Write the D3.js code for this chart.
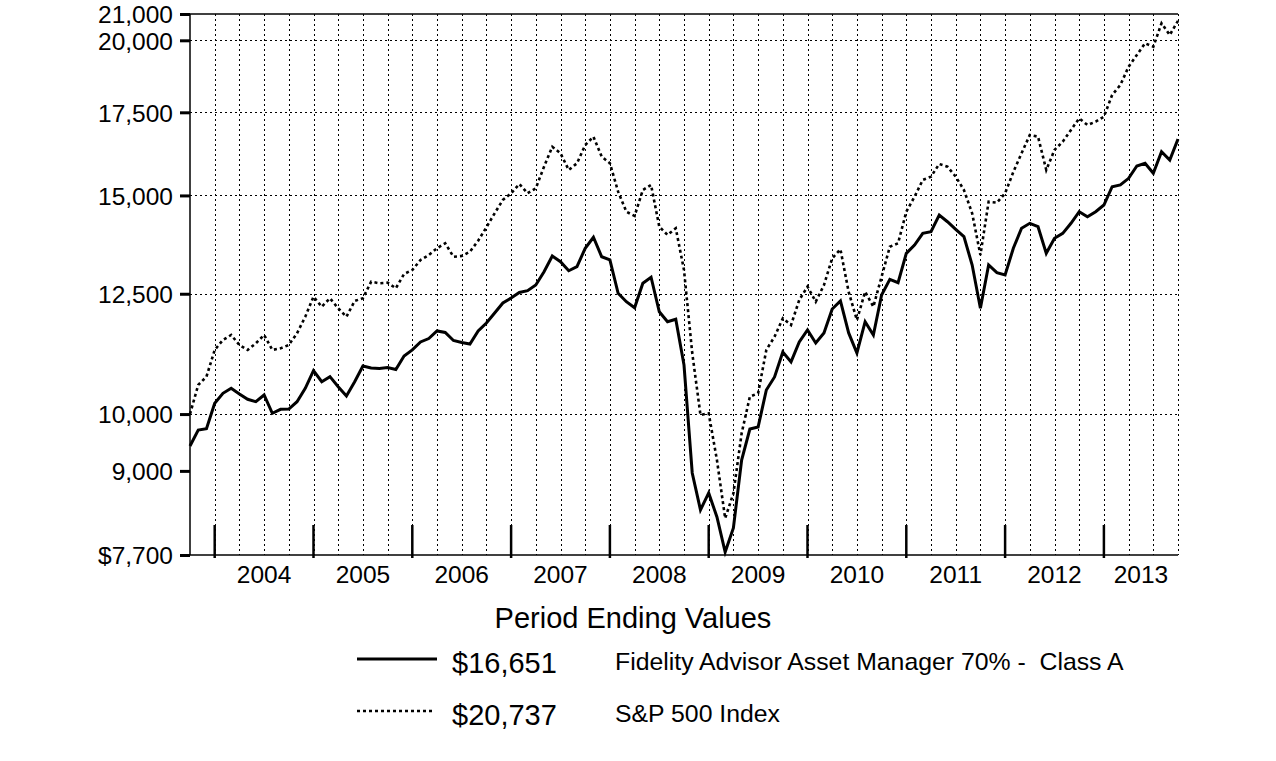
<!DOCTYPE html>
<html>
<head>
<meta charset="utf-8">
<script src="https://cdn.jsdelivr.net/npm/d3@7"></script>
<style>
  html, body { margin: 0; padding: 0; background: #fff; }
  svg { display: block; }
  text { font-family: "Liberation Sans", Arial, sans-serif; fill: #000; }
</style>
</head>
<body>
<svg id="chart" width="1276" height="761"></svg>
<script>
// Monthly period-ending values, Sep 2003 .. Sep 2013 (121 months)
const startMonth = "2003-09";
const fundValues = [
  9425, 9708, 9731, 10202, 10393, 10490, 10380, 10278, 10232, 10360,
  10015, 10088, 10094, 10232, 10490, 10838, 10619, 10719, 10521, 10341,
  10619, 10933, 10893, 10883, 10902, 10862, 11138, 11263, 11431, 11504,
  11666, 11633, 11462, 11420, 11388, 11666, 11840, 12062, 12287, 12402,
  12529, 12571, 12703, 13020, 13406, 13265, 13045, 13143, 13600, 13880,
  13388, 13308, 12510, 12317, 12180, 12745, 12888, 12090, 11869, 11922,
  10952, 8965, 8371, 8639, 8263, 7743, 8096, 9183, 9727, 9763,
  10456, 10712, 11220, 11015, 11431, 11687, 11410, 11624, 12151, 12333,
  11624, 11199, 11869, 11580, 12472, 12839, 12759, 13473, 13682, 13982,
  14024, 14465, 14286, 14087, 13896, 13184, 12167, 13184, 12997, 12942,
  13600, 14114, 14244, 14154, 13473, 13854, 13982, 14244, 14555, 14421,
  14555, 14736, 15244, 15294, 15484, 15842, 15922, 15630, 16267, 16019,
  16651
];
const spValues = [
  10000, 10555, 10719, 11263, 11472, 11580, 11367, 11263, 11403, 11580,
  11263, 11296, 11367, 11617, 11978, 12432, 12203, 12396, 12167, 11978,
  12333, 12396, 12782, 12745, 12759, 12627, 12966, 13062, 13308, 13431,
  13600, 13726, 13388, 13406, 13514, 13793, 14139, 14511, 14874, 15060,
  15322, 15060, 15200, 15821, 16418, 16220, 15725, 15922, 16470, 16727,
  16118, 15922, 15105, 14555, 14440, 15152, 15294, 14154, 13940, 14114,
  13062, 11199, 9983, 10015, 9183, 8243, 8633, 9649, 10328, 10393,
  11263, 11544, 11943, 11796, 12357, 12665, 12317, 12703, 13350, 13574,
  12541, 11905, 12545, 12203, 12902, 13639, 13726, 14555, 14965, 15437,
  15532, 15901, 15821, 15532, 15152, 14511, 13431, 14826, 14800, 15060,
  15666, 16220, 16779, 16727, 15725, 16320, 16571, 16937, 17306, 17094,
  17199, 17359, 18071, 18409, 19045, 19462, 19889, 19765, 20641, 20198,
  20737
];
const yTickValues = [7700, 9000, 10000, 12500, 15000, 17500, 20000, 21000];
const yTickLabels = ["$7,700", "9,000", "10,000", "12,500", "15,000", "17,500", "20,000", "21,000"];
const yGridValues = [10000, 12500, 15000, 17500, 20000];
const yearLabels = ["2004", "2005", "2006", "2007", "2008", "2009", "2010", "2011", "2012", "2013"];
const legendTitle = "Period Ending Values";
const seriesNames = ["Fidelity Advisor Asset Manager 70% -  Class A", "S&P 500 Index"];
const seriesEndLabels = ["$16,651", "$20,737"];

const svg = d3.select("#chart");
const L = 190, R = 1178, T = 14, B = 555;
const nMonths = fundValues.length - 1;
const x = d3.scaleLinear().domain([0, nMonths]).range([L, R]);
const y = d3.scaleLog().domain([7700, 21000]).range([B, T]);

// month index of each quarter end (Dec 2003 = index 3)
const quarterIdx = d3.range(3, nMonths + 1, 3);
const yearEndIdx = d3.range(3, nMonths, 12);

// vertical gridlines
svg.append("g").selectAll("line").data(quarterIdx).join("line")
  .attr("x1", d => Math.round(x(d)) + 0.5).attr("x2", d => Math.round(x(d)) + 0.5)
  .attr("y1", T).attr("y2", B)
  .attr("stroke", "#000").attr("stroke-width", 1).attr("stroke-dasharray", "2,3");

// horizontal gridlines
svg.append("g").selectAll("line").data(yGridValues).join("line")
  .attr("x1", L).attr("x2", R)
  .attr("y1", d => Math.round(y(d)) + 0.5).attr("y2", d => Math.round(y(d)) + 0.5)
  .attr("stroke", "#000").attr("stroke-width", 1).attr("stroke-dasharray", "2,3");

// left axis
const yAxis = d3.axisLeft(y).tickValues(yTickValues).tickFormat((d, i) => yTickLabels[i])
  .tickSize(10).tickPadding(7);
const gy = svg.append("g").attr("transform", `translate(${L},0)`).call(yAxis);
gy.select(".domain").attr("stroke", "#000").attr("stroke-width", 1.5).attr("d", `M0,${T}V${B}`);
gy.selectAll(".tick line").attr("stroke", "#000").attr("stroke-width", 3);
gy.selectAll(".tick text").attr("font-size", 24.5).attr("font-family", "Liberation Sans, Arial, sans-serif")
  .attr("fill", "#000").attr("dy", "0.36em");

// top border & bottom axis
svg.append("line").attr("x1", L).attr("x2", R).attr("y1", T).attr("y2", T)
  .attr("stroke", "#000").attr("stroke-width", 1.5);
const xAxis = d3.axisBottom(x).tickValues(yearEndIdx).tickSize(0).tickFormat("");
const gx = svg.append("g").attr("transform", `translate(0,${B})`).call(xAxis);
gx.select(".domain").attr("stroke", "#000").attr("stroke-width", 1.5).attr("d", `M${L},0H${R}`);

// year end ticks
svg.append("g").selectAll("line").data(yearEndIdx).join("line")
  .attr("x1", d => x(d)).attr("x2", d => x(d))
  .attr("y1", B - 30).attr("y2", B + 3)
  .attr("stroke", "#000").attr("stroke-width", 2.5);

// year labels centered in each year span
svg.append("g").selectAll("text").data(yearLabels).join("text")
  .attr("x", (d, i) => (x(yearEndIdx[i]) + x(Math.min(yearEndIdx[i] + 12, nMonths))) / 2)
  .attr("y", 583)
  .attr("text-anchor", "middle").attr("font-size", 24.5)
  .text(d => d);

// series lines
const line = d3.line().x((d, i) => x(i)).y(d => y(d));
svg.append("path").datum(spValues).attr("d", line)
  .attr("fill", "none").attr("stroke", "#000").attr("stroke-width", 2.6)
  .attr("stroke-dasharray", "3,3");
svg.append("path").datum(fundValues).attr("d", line)
  .attr("fill", "none").attr("stroke", "#000").attr("stroke-width", 3)
  .attr("stroke-linejoin", "miter");

// legend
svg.append("text").attr("x", 633).attr("y", 628).attr("text-anchor", "middle")
  .attr("font-size", 29).text(legendTitle);
const legendY = [659, 711];
const leg = svg.append("g");
leg.append("line").attr("x1", 357).attr("x2", 437).attr("y1", legendY[0]).attr("y2", legendY[0])
  .attr("stroke", "#000").attr("stroke-width", 3);
leg.append("line").attr("x1", 357).attr("x2", 432).attr("y1", legendY[1]).attr("y2", legendY[1])
  .attr("stroke", "#000").attr("stroke-width", 2.5).attr("stroke-dasharray", "3,3");
leg.selectAll("text.val").data(seriesEndLabels).join("text").attr("class", "val")
  .attr("x", 452).attr("y", (d, i) => legendY[i] + 14)
  .attr("font-size", 29).text(d => d);
leg.selectAll("text.name").data(seriesNames).join("text").attr("class", "name")
  .attr("x", 615).attr("y", (d, i) => legendY[i] + 11)
  .attr("font-size", 24.8).style("white-space", "pre")
  .text(d => d);
</script>
</body>
</html>
